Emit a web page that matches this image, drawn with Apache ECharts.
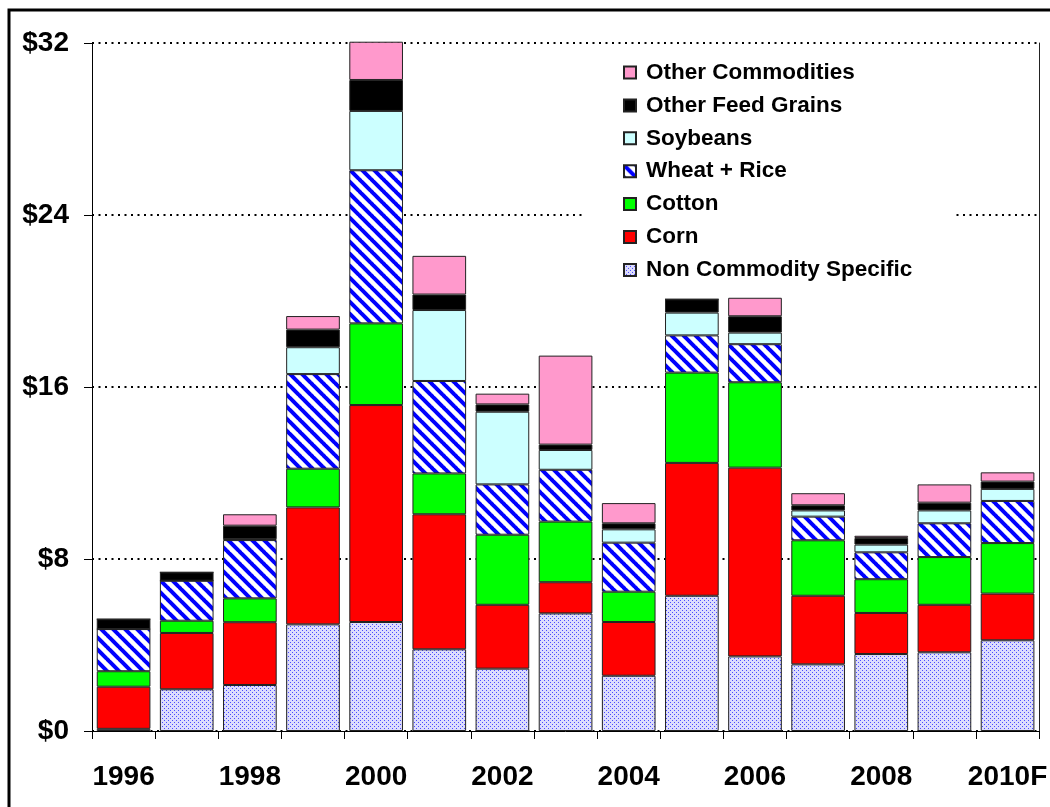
<!DOCTYPE html>
<html>
<head>
<meta charset="utf-8">
<script src="https://cdn.jsdelivr.net/npm/echarts@6/dist/echarts.min.js"></script>
<style>
  html, body { margin: 0; padding: 0; background: #fff; }
  #chart { width: 1050px; height: 807px; }
</style>
</head>
<body>
<div id="chart"></div>
<script>
const years = ['1996', '1997', '1998', '1999', '2000', '2001', '2002', '2003',
  '2004', '2005', '2006', '2007', '2008', '2009', '2010F']

// billions of dollars
const nonCommodity = [0.10, 1.94, 2.14, 4.96, 5.07, 3.80, 2.90, 5.47, 2.57, 6.29, 3.47, 3.10, 3.58, 3.66, 4.22]
const corn = [1.96, 2.62, 2.92, 5.44, 10.09, 6.28, 2.97, 1.45, 2.50, 6.18, 8.78, 3.19, 1.91, 2.21, 2.17]
const cotton = [0.72, 0.57, 1.11, 1.80, 3.80, 1.90, 3.26, 2.82, 1.41, 4.20, 3.97, 2.58, 1.57, 2.22, 2.35]
const wheatRice = [1.96, 1.86, 2.71, 4.40, 7.12, 4.30, 2.34, 2.41, 2.28, 1.73, 1.77, 1.10, 1.25, 1.57, 1.96]
const soybeans = [0, 0, 0.04, 1.25, 2.76, 3.30, 3.38, 0.92, 0.62, 1.06, 0.54, 0.29, 0.36, 0.60, 0.56]
const otherFeed = [0.46, 0.39, 0.63, 0.82, 1.44, 0.72, 0.34, 0.25, 0.28, 0.62, 0.76, 0.24, 0.31, 0.36, 0.34]
const otherComm = [0, 0, 0.53, 0.63, 1.78, 1.80, 0.50, 4.14, 0.94, 0, 0.86, 0.56, 0.10, 0.85, 0.43]

const FONT = "'Liberation Sans', Arial, sans-serif"

function dotPattern() {
  const c = document.createElement('canvas')
  c.width = 4; c.height = 4
  const g = c.getContext('2d')
  g.fillStyle = '#dcdcfd'
  g.fillRect(0, 0, 4, 4)
  g.fillStyle = '#4a4aff'
  g.fillRect(0, 0, 1, 1)
  g.fillRect(2, 2, 1, 1)
  return c
}

function stripePattern() {
  const s = 12
  const c = document.createElement('canvas')
  c.width = s; c.height = s
  const g = c.getContext('2d')
  g.fillStyle = '#fff'
  g.fillRect(0, 0, s, s)
  g.strokeStyle = '#0000ff'
  g.lineWidth = 4
  for (const o of [-s, 0, s]) {
    g.beginPath()
    g.moveTo(o - 1, -1)
    g.lineTo(o + s + 1, s + 1)
    g.stroke()
  }
  return c
}

const seriesDefs = [
  { name: 'Non Commodity Specific', data: nonCommodity, color: { image: dotPattern(), repeat: 'repeat' } },
  { name: 'Corn', data: corn, color: '#ff0000' },
  { name: 'Cotton', data: cotton, color: '#00ff00' },
  { name: 'Wheat + Rice', data: wheatRice, color: { image: stripePattern(), repeat: 'repeat' } },
  { name: 'Soybeans', data: soybeans, color: '#ccffff' },
  { name: 'Other Feed Grains', data: otherFeed, color: '#000000' },
  { name: 'Other Commodities', data: otherComm, color: '#ff99cc' },
]

const chart = echarts.init(document.getElementById('chart'))
chart.setOption({
  animation: false,
  backgroundColor: '#fff',
  textStyle: { fontFamily: FONT },
  grid: { left: 92, right: 3, top: 43, bottom: 76 },
  legend: {
    orient: 'vertical',
    left: 585,
    top: 49,
    padding: [12, 40, 10, 38],
    backgroundColor: '#fff',
    icon: 'rect',
    itemWidth: 12,
    itemHeight: 12,
    itemGap: 9.9,
    data: seriesDefs.map((s) => s.name).reverse(),
    textStyle: { fontSize: 22.5, fontWeight: 'bold', color: '#000', lineHeight: 22, padding: [0, 0, 0, 5], fontFamily: FONT },
  },
  xAxis: {
    type: 'category',
    data: years,
    axisLine: { lineStyle: { color: '#000', width: 1 } },
    axisTick: { show: true, interval: 0, length: 8, lineStyle: { color: '#000' } },
    axisLabel: { interval: 1, margin: 32, fontSize: 28, fontWeight: 'bold', color: '#000', fontFamily: FONT },
  },
  yAxis: [
    {
      type: 'value',
      min: 0,
      max: 32,
      interval: 8,
      axisLine: { show: true, lineStyle: { color: '#000', width: 1 } },
      axisTick: { show: true, length: 8, lineStyle: { color: '#000' } },
      axisLabel: { margin: 23, fontSize: 28, fontWeight: 'bold', color: '#000', formatter: (v) => '$' + v, fontFamily: FONT },
      splitLine: { show: true, lineStyle: { color: '#000', width: 2, type: [2, 4.5] } },
    },
    {
      type: 'value',
      position: 'right',
      min: 0,
      max: 32,
      interval: 8,
      axisLine: { show: true, lineStyle: { color: '#222', width: 1 } },
      axisTick: { show: false },
      axisLabel: { show: false },
      splitLine: { show: false },
    },
  ],
  series: seriesDefs.map((s) => ({
    name: s.name,
    type: 'bar',
    stack: 'total',
    data: s.data,
    clip: false,
    barCategoryGap: '15%',
    itemStyle: { color: s.color, borderColor: '#222', borderWidth: 1 },
    emphasis: { disabled: true },
  })),
  graphic: [
    {
      type: 'rect',
      shape: { x: 9, y: 10, width: 1100, height: 900 },
      style: { fill: 'none', stroke: '#000', lineWidth: 3 },
      silent: true,
      z: 100,
    },
  ],
})
</script>
</body>
</html>
